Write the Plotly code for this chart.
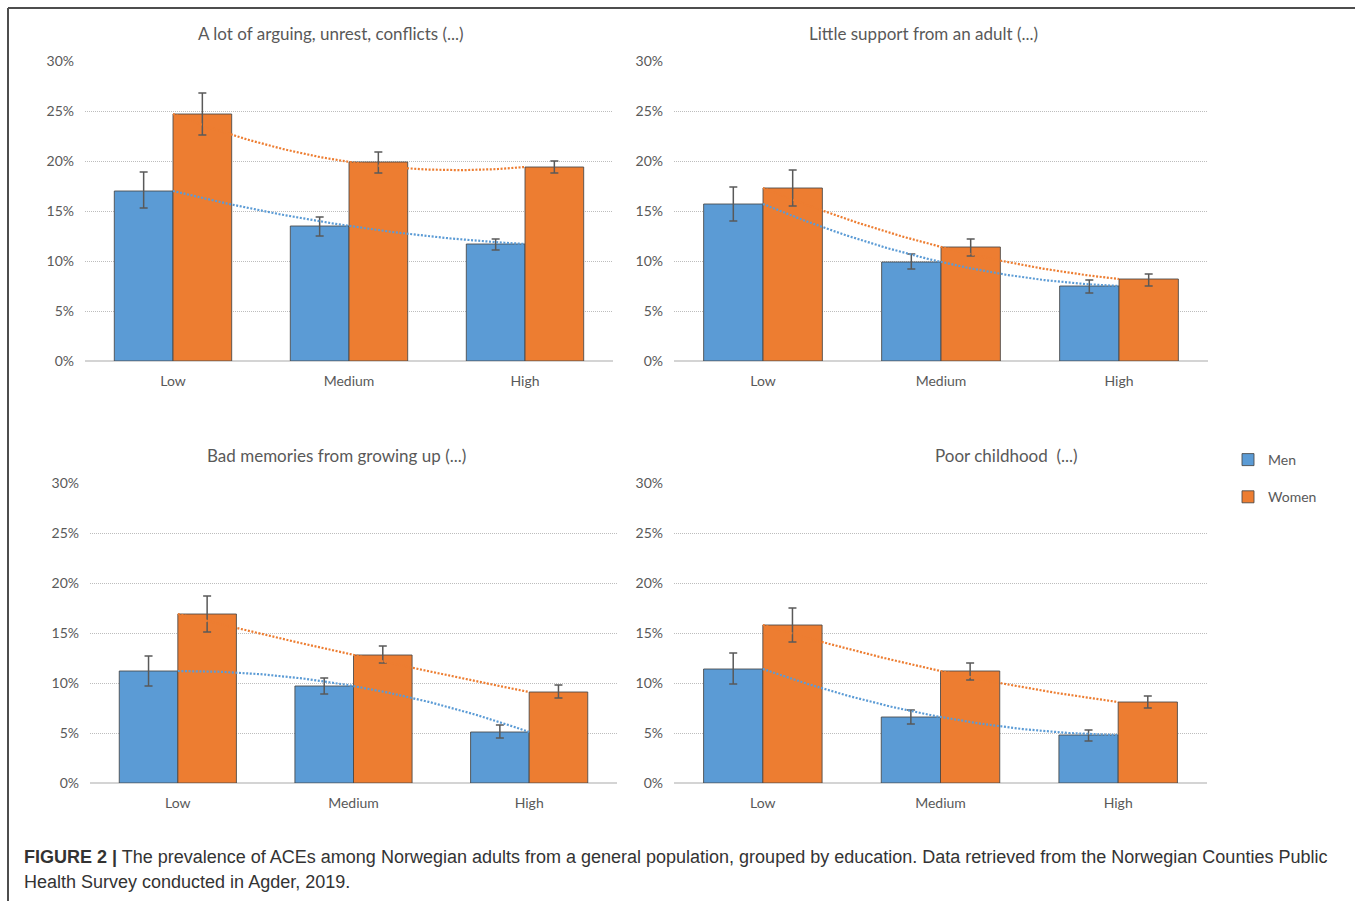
import numpy as np
import plotly.graph_objects as go

# ---------------- data ----------------
categories = ["Low", "Medium", "High"]
panel_titles = [
    "A lot of arguing, unrest, conflicts (...)",
    "Little support from an adult (...)",
    "Bad memories from growing up (...)",
    "Poor childhood  (...)",
]
series_names = ["Men", "Women"]
y_ticks = [0, 5, 10, 15, 20, 25, 30]
y_tick_labels = ["0%", "5%", "10%", "15%", "20%", "25%", "30%"]

# Panel A: A lot of arguing
men_a = [17.0, 13.5, 11.7]
men_a_hi = [18.9, 14.4, 12.2]
men_a_lo = [15.3, 12.5, 11.1]
women_a = [24.7, 19.9, 19.4]
women_a_hi = [26.8, 20.9, 20.0]
women_a_lo = [22.6, 18.8, 18.8]

# Panel B: Little support from an adult
men_b = [15.7, 9.9, 7.5]
men_b_hi = [17.4, 10.7, 8.1]
men_b_lo = [14.0, 9.2, 6.8]
women_b = [17.3, 11.4, 8.2]
women_b_hi = [19.1, 12.2, 8.7]
women_b_lo = [15.5, 10.5, 7.5]

# Panel C: Bad memories from growing up
men_c = [11.2, 9.7, 5.1]
men_c_hi = [12.7, 10.5, 5.8]
men_c_lo = [9.7, 8.9, 4.5]
women_c = [16.9, 12.8, 9.1]
women_c_hi = [18.7, 13.7, 9.8]
women_c_lo = [15.1, 12.0, 8.5]

# Panel D: Poor childhood
men_d = [11.4, 6.6, 4.8]
men_d_hi = [13.0, 7.3, 5.3]
men_d_lo = [9.9, 5.9, 4.2]
women_d = [15.8, 11.2, 8.1]
women_d_hi = [17.5, 12.0, 8.7]
women_d_lo = [14.1, 10.3, 7.5]

caption_line1 = ("<b>FIGURE 2 |</b> The prevalence of ACEs among Norwegian adults from a general "
                 "population, grouped by education. Data retrieved from the Norwegian Counties Public")
caption_line2 = "Health Survey conducted in Agder, 2019."

# ---------------- style ----------------
W, H = 1355, 901
BLUE = "#5B9BD5"
ORANGE = "#ED7D31"
TXT = "#595959"
FONT = "Lato"

panels = [
    dict(men=men_a, mhi=men_a_hi, mlo=men_a_lo, wom=women_a, whi=women_a_hi, wlo=women_a_lo,
         px=(85, 613), py=(61, 361), title_xy=(331, 34)),
    dict(men=men_b, mhi=men_b_hi, mlo=men_b_lo, wom=women_b, whi=women_b_hi, wlo=women_b_lo,
         px=(674, 1208), py=(61, 361), title_xy=(923, 34)),
    dict(men=men_c, mhi=men_c_hi, mlo=men_c_lo, wom=women_c, whi=women_c_hi, wlo=women_c_lo,
         px=(90, 617), py=(483, 783), title_xy=(336, 456)),
    dict(men=men_d, mhi=men_d_hi, mlo=men_d_lo, wom=women_d, whi=women_d_hi, wlo=women_d_lo,
         px=(674, 1207), py=(483, 783), title_xy=(1006, 456)),
]


def fx(p):
    return p / W


def fy(p):
    return 1 - p / H


fig = go.Figure()
xpos = list(range(len(categories)))
annotations = []
layout_axes = {}

for i, p in enumerate(panels):
    n = i + 1
    xa = "x" if n == 1 else f"x{n}"
    ya = "y" if n == 1 else f"y{n}"
    for name, vals, hi, lo, col in [
        ("Men", p["men"], p["mhi"], p["mlo"], BLUE),
        ("Women", p["wom"], p["whi"], p["wlo"], ORANGE),
    ]:
        fig.add_trace(go.Bar(
            x=xpos, y=vals, name=name, xaxis=xa, yaxis=ya,
            marker=dict(color=col, line=dict(color="rgba(70,70,70,0.85)", width=1)),
            error_y=dict(type="data", symmetric=False,
                         array=[h - v for h, v in zip(hi, vals)],
                         arrayminus=[v - l for v, l in zip(vals, lo)],
                         color="#595959", thickness=1.5, width=4),
            offsetgroup=name, legendgroup=name, showlegend=(i == 0),
            hoverinfo="skip",
        ))
    # polynomial (order 2) trendlines, drawn at category centres as in the original
    xs = np.linspace(0, len(categories) - 1, 120)
    for vals, col in [(p["men"], BLUE), (p["wom"], ORANGE)]:
        coef = np.polyfit(xpos, vals, 2)
        fig.add_trace(go.Scatter(
            x=xs, y=np.polyval(coef, xs), mode="lines", xaxis=xa, yaxis=ya,
            line=dict(color=col, width=2.2, dash="2px,1.6px"), showlegend=False,
            hoverinfo="skip",
        ))
    xk = "xaxis" if n == 1 else f"xaxis{n}"
    yk = "yaxis" if n == 1 else f"yaxis{n}"
    layout_axes[xk] = dict(
        domain=[fx(p["px"][0]), fx(p["px"][1])], anchor=ya, range=[-0.5, 2.5],
        tickvals=xpos, ticktext=categories, showgrid=False, zeroline=False,
        showline=False, ticks="", tickfont=dict(family=FONT, size=14, color=TXT),
        ticklabelstandoff=10, fixedrange=True, automargin=False,
    )
    layout_axes[yk] = dict(
        domain=[fy(p["py"][1]), fy(p["py"][0])], anchor=xa, range=[0, 30],
        tickmode="array", tickvals=y_ticks, ticktext=y_tick_labels,
        showgrid=True, gridcolor="#BDBDBD", griddash="1px,1px", gridwidth=1,
        zeroline=True, zerolinecolor="#D4D4D4", zerolinewidth=1.5,
        showline=False, ticks="",
        tickfont=dict(family=FONT, size=14, color=TXT), ticklabelstandoff=10,
        fixedrange=True, automargin=False,
    )
    annotations.append(dict(
        text=panel_titles[i], x=fx(p["title_xy"][0]), y=fy(p["title_xy"][1]),
        xref="paper", yref="paper", xanchor="center", yanchor="middle",
        showarrow=False, font=dict(family=FONT, size=17, color=TXT),
    ))

annotations.append(dict(text=caption_line1, x=fx(22), y=fy(857), xref="paper", yref="paper",
                        xanchor="left", yanchor="middle", showarrow=False,
                        font=dict(family="Liberation Sans", size=18, color="#333333")))
annotations.append(dict(text=caption_line2, x=fx(22), y=fy(882), xref="paper", yref="paper",
                        xanchor="left", yanchor="middle", showarrow=False,
                        font=dict(family="Liberation Sans", size=18, color="#333333")))

shapes = [
    dict(type="line", xref="paper", yref="paper", x0=fx(8), x1=fx(8), y0=fy(8), y1=0,
         line=dict(color="#4D4D4D", width=2)),
    dict(type="line", xref="paper", yref="paper", x0=fx(8), x1=1, y0=fy(8), y1=fy(8),
         line=dict(color="#4D4D4D", width=2)),
]

fig.update_layout(
    width=W, height=H, autosize=False,
    margin=dict(l=0, r=0, t=0, b=0, pad=0, autoexpand=False),
    paper_bgcolor="white", plot_bgcolor="white",
    barmode="group", bargap=0.333, bargroupgap=0,
    showlegend=True,
    legend=dict(x=fx(1228), y=fy(444), xanchor="left", yanchor="top",
                font=dict(family=FONT, size=14, color=TXT), tracegroupgap=16,
                traceorder="grouped", bgcolor="rgba(0,0,0,0)", itemwidth=30),
    annotations=annotations, shapes=shapes,
    **layout_axes,
)

page_fix = (
    "document.documentElement.style.margin='0px';document.body.style.margin='0px';"
    "document.documentElement.style.overflow='hidden';document.body.style.overflow='hidden';"
)

fig.write_html("out.html", config={"displayModeBar": False}, post_script=page_fix)
